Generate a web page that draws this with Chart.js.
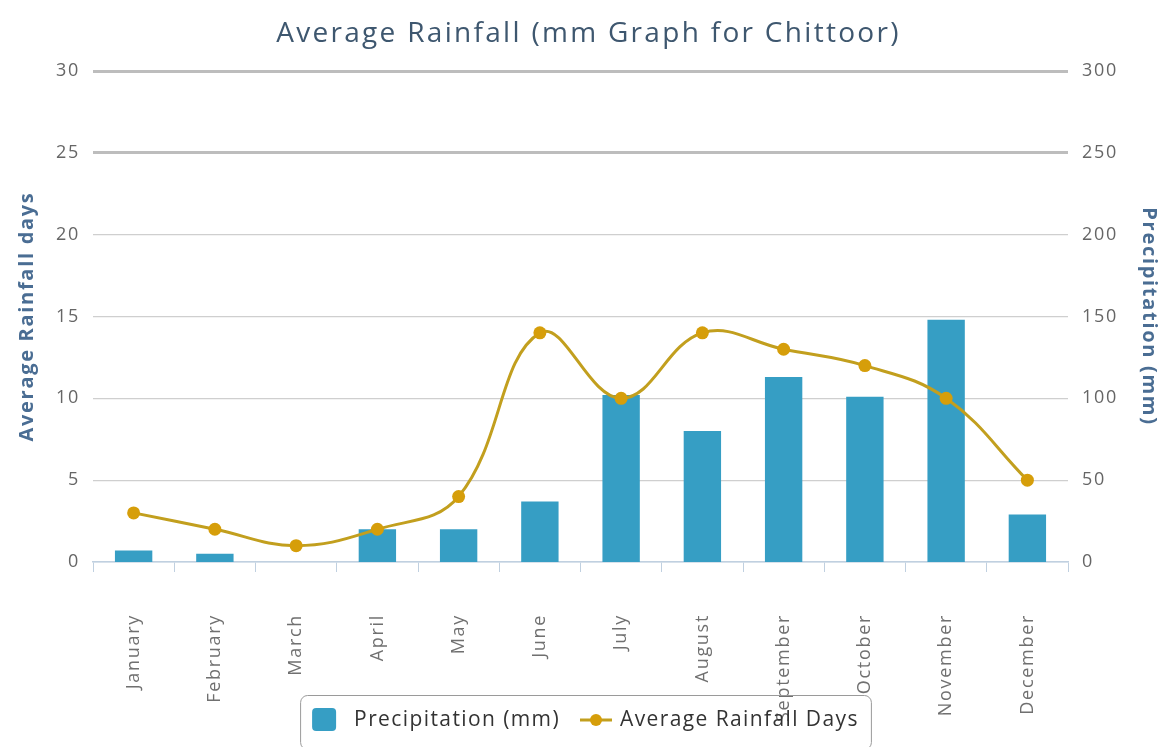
<!DOCTYPE html>
<html>
<head>
<meta charset="utf-8">
<title>Average Rainfall – Chittoor</title>
<script src="https://cdn.jsdelivr.net/npm/chart.js@4/dist/chart.umd.min.js"></script>
<style>
  html, body { margin: 0; padding: 0; background: #ffffff; }
  #wrap { width: 1161px; height: 747px; position: relative; }
</style>
</head>
<body>
<div id="wrap"><canvas id="chart" width="1161" height="747"></canvas></div>
<script>
// Monthly climate figures for Chittoor
const months = ['January', 'February', 'March', 'April', 'May', 'June',
                'July', 'August', 'September', 'October', 'November', 'December'];
const precipitationMm = [7, 5, 0, 20, 20, 37, 102, 80, 113, 101, 148, 29];
const rainfallDays = [3, 2, 1, 2, 4, 14, 10, 14, 13, 12, 10, 5];

const daysAxis = { min: 0, max: 30, step: 5 };
const mmAxis = { min: 0, max: 300, step: 50 };

const chartTitle = 'Average Rainfall (mm Graph for Chittoor)';
const daysLabel = 'Average Rainfall days';
const mmLabel = 'Precipitation (mm)';
const barSeriesName = 'Precipitation (mm)';
const lineSeriesName = 'Average Rainfall Days';

const BAR_COLOR = '#369ec4';
const LINE_COLOR = '#c29f1e';
const POINT_COLOR = '#d69e0a';
const FONT = '"Open Sans", "Noto Sans", sans-serif';

// Slightly tracked-out lettering for the axes
const axisLettering = {
  id: 'axisLettering',
  beforeDraw(chart) { chart.ctx.letterSpacing = '1.7px'; },
  afterDatasetsDraw(chart) { chart.ctx.letterSpacing = '0px'; }
};

// Title drawn centred above the plot
const titlePlugin = {
  id: 'topTitle',
  afterDraw(chart) {
    const ctx = chart.ctx;
    ctx.save();
    ctx.letterSpacing = '2.3px';
    ctx.font = '28px ' + FONT;
    ctx.fillStyle = '#3e576f';
    ctx.textAlign = 'center';
    ctx.textBaseline = 'middle';
    ctx.fillText(chartTitle, chart.width / 2 + 8, 34);
    ctx.restore();
  }
};

// Boxed legend at the foot of the chart
const boxLegend = {
  id: 'boxLegend',
  afterDraw(chart) {
    const ctx = chart.ctx;
    ctx.save();
    ctx.letterSpacing = '1.4px';
    ctx.font = '21px ' + FONT;
    const w1 = ctx.measureText(barSeriesName).width;
    const w2 = ctx.measureText(lineSeriesName).width;
    const pad = 12, sw = 24, gap1 = 18, gap2 = 20, mk = 32, gap3 = 8;
    const total = pad + sw + gap1 + w1 + gap2 + mk + gap3 + w2 + pad;
    const cx = chart.width / 2 + 5;
    const x0 = cx - total / 2;
    const y0 = 695, h = 54, cy = 720;

    ctx.strokeStyle = '#9a9a9a';
    ctx.lineWidth = 1;
    ctx.beginPath();
    ctx.roundRect(x0 + 0.5, y0 + 0.5, total, h, 7);
    ctx.stroke();

    let x = x0 + pad;
    ctx.fillStyle = BAR_COLOR;
    ctx.beginPath();
    ctx.roundRect(x, cy - 12, sw, 23, 4);
    ctx.fill();
    x += sw + gap1;

    ctx.fillStyle = '#333333';
    ctx.textBaseline = 'middle';
    ctx.textAlign = 'left';
    ctx.fillText(barSeriesName, x, cy);
    x += w1 + gap2;

    ctx.strokeStyle = LINE_COLOR;
    ctx.lineWidth = 3;
    ctx.beginPath();
    ctx.moveTo(x, cy);
    ctx.lineTo(x + mk, cy);
    ctx.stroke();
    ctx.fillStyle = POINT_COLOR;
    ctx.beginPath();
    ctx.arc(x + mk / 2, cy, 6, 0, Math.PI * 2);
    ctx.fill();
    x += mk + gap3;

    ctx.fillStyle = '#333333';
    ctx.fillText(lineSeriesName, x, cy);
    ctx.restore();
  }
};

new Chart(document.getElementById('chart'), {
  data: {
    labels: months,
    datasets: [
      {
        type: 'line',
        label: lineSeriesName,
        data: rainfallDays,
        yAxisID: 'days',
        borderColor: LINE_COLOR,
        borderWidth: 3,
        backgroundColor: POINT_COLOR,
        pointBackgroundColor: POINT_COLOR,
        pointBorderColor: POINT_COLOR,
        pointRadius: 6.5,
        pointBorderWidth: 0,
        tension: 0.4,
        fill: false,
        order: 0
      },
      {
        type: 'bar',
        label: barSeriesName,
        data: precipitationMm,
        yAxisID: 'mm',
        backgroundColor: BAR_COLOR,
        borderWidth: 0,
        categoryPercentage: 1,
        barPercentage: 0.46,
        order: 1
      }
    ]
  },
  options: {
    responsive: false,
    animation: false,
    layout: { padding: { top: 71, right: 0, bottom: 0, left: 0 } },
    plugins: {
      legend: { display: false },
      title: { display: false },
      tooltip: { enabled: false }
    },
    scales: {
      x: {
        offset: true,
        grid: {
          offset: true,
          drawOnChartArea: false,
          drawTicks: true,
          tickLength: 10,
          color: '#c0d0e0'
        },
        border: { color: '#c0d0e0', width: 1.5 },
        ticks: {
          color: '#707070',
          font: { family: FONT, size: 18 },
          maxRotation: 90,
          minRotation: 90,
          padding: 42,
          autoSkip: false
        },
        afterFit(scale) { scale.height = 185; }
      },
      days: {
        type: 'linear',
        position: 'left',
        min: daysAxis.min,
        max: daysAxis.max,
        ticks: {
          stepSize: daysAxis.step,
          color: '#666666',
          font: { family: FONT, size: 18 },
          padding: 13
        },
        grid: {
          drawTicks: false,
          color: (c) => c.tick && c.tick.value === 0 ? '#c0d0e0' : (c.tick && c.tick.value >= 25 ? '#bdbdbd' : '#cfcfcf'),
          lineWidth: (c) => c.tick && c.tick.value >= 25 ? 3 : 1.2
        },
        border: { display: false },
        title: {
          display: true,
          text: daysLabel,
          color: '#4a6d93',
          font: { family: FONT, size: 20, weight: 'bold' },
          padding: { top: 15, bottom: 0 }
        },
        afterFit(scale) { scale.width = 93; }
      },
      mm: {
        type: 'linear',
        position: 'right',
        min: mmAxis.min,
        max: mmAxis.max,
        ticks: {
          stepSize: mmAxis.step,
          color: '#666666',
          font: { family: FONT, size: 18 },
          padding: 14
        },
        grid: { display: false, drawTicks: false },
        border: { display: false },
        title: {
          display: true,
          text: mmLabel,
          color: '#4a6d93',
          font: { family: FONT, size: 20, weight: 'bold' },
          padding: { top: 0, bottom: 1 }
        },
        afterFit(scale) { scale.width = 93; }
      }
    }
  },
  plugins: [axisLettering, titlePlugin, boxLegend]
});
</script>
</body>
</html>
